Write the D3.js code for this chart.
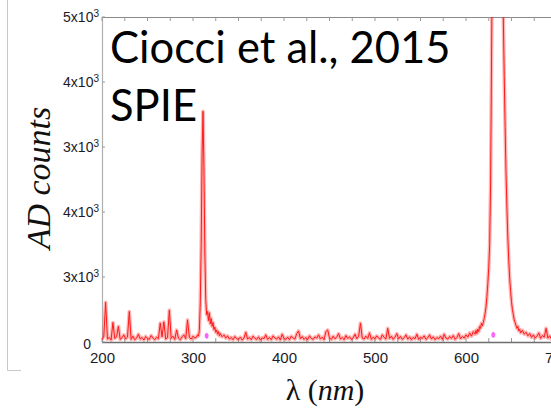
<!DOCTYPE html>
<html>
<head>
<meta charset="utf-8">
<script src="https://cdn.jsdelivr.net/npm/d3@7"></script>
<style>
  html, body { margin: 0; padding: 0; background: #fff; }
  svg { display: block; }
</style>
</head>
<body>
<svg id="chart" width="551" height="410"></svg>
<script>
// Emission spectrum: wavelength (nm) and detector counts (AD counts)
const wavelengthNm = [
  200,202,204,206,208,210,212,214,216,218,220,222,224,226,228,230,232,234,236,238,
  240,242,244,246,248,250,252,254,256,258,260,262,264,266,268,270,272,274,276,278,
  280,282,284,286,288,290,292,294,296,298,300,302,304,
  305,306,307,308,309,310,311,312,313,314,315,316,317,318,319,320,321,322,323,324,
  325,326,327,328,329,330,
  332,334,336,338,340,342,344,346,348,350,352,354,356,358,360,362,364,366,368,370,
  372,374,376,378,380,382,384,386,388,390,392,394,396,398,400,402,404,406,408,410,
  412,414,416,418,420,422,424,426,428,430,432,434,436,438,440,442,444,446,448,450,
  452,454,456,458,460,462,464,466,468,470,472,474,476,478,480,482,484,486,488,490,
  492,494,496,498,500,502,504,506,508,510,512,514,516,518,520,522,524,526,528,530,
  532,534,536,538,540,542,544,546,548,550,552,554,556,558,560,562,564,566,568,570,
  572,574,576,578,580,582,584,586,588,590,592,594,596,598,600,602,604,606,608,610,
  611,612,613,614,615,616,617,618,619,620,621,622,623,624,625,626,627,628,629,630,
  631,632,633,634,635,636,637,638,639,640,641,642,643,644,645,646,647,648,649,650,
  651,652,653,654,655,656,657,658,659,660,
  662,664,666,668,670,672,674,676,678,680,682,684,686,688,690,692,694,696,698,700
];
const adCounts = [
  35,90,610,45,70,30,300,55,80,240,40,65,110,50,75,470,40,90,35,60,
  120,45,70,30,85,55,40,100,60,35,75,50,290,80,310,45,65,490,55,90,
  40,185,60,35,80,110,50,340,70,45,90,60,75,
  110,90,180,600,1500,2900,3550,2700,1400,650,420,470,330,450,280,360,240,300,190,230,
  150,185,120,160,95,130,
  80,110,60,95,45,70,35,85,50,40,75,30,60,150,45,70,35,90,55,40,
  80,30,65,50,110,40,70,35,95,60,45,80,30,120,55,40,75,35,90,60,
  45,130,170,50,85,40,70,35,95,55,40,80,60,110,45,75,35,160,185,60,
  40,90,50,75,130,45,70,35,100,55,80,40,65,120,50,85,290,60,45,90,
  55,140,40,75,50,95,60,40,110,70,45,210,55,90,40,75,130,50,85,40,
  65,110,45,80,35,70,50,120,40,75,55,95,40,65,110,45,80,35,70,50,
  90,40,120,60,45,85,55,100,40,70,130,50,85,60,110,75,140,90,160,120,
  180,130,200,160,240,210,290,250,300,360,440,540,700,900,1150,1500,2400,4200,6200,8000,
  9300,10100,10500,10600,10400,9900,9200,8200,7100,6000,5000,4100,3300,2600,2050,1600,1250,980,780,620,
  500,420,340,300,250,210,240,170,195,140,
  180,120,150,95,130,70,110,60,90,140,55,100,75,210,60,95,45,120,70,85
];
// Small reference markers sitting on the baseline under each line
const markerNm = [315, 630];
const markerCounts = [95, 110];

// Axis ticks
const xTickValues = [200, 300, 400, 500, 600, 700];
const xMinorStep = 25;
const yTickValues = [0, 1000, 2000, 3000, 4000, 5000];
const yTickBase = ["0", "3x10", "4x10", "3x10", "4x10", "5x10"];
const yTickExp = ["", "3", "3", "3", "3", "3"];

const svg = d3.select("#chart");
const plot = { left: 102, right: 557, top: 17, bottom: 342 };
const visibleRight = 551;

const x = d3.scaleLinear().domain([200, 700]).range([plot.left, plot.right]);
const y = d3.scaleLinear().domain([0, 5000]).range([plot.bottom, plot.top]);

// Outer figure border fragment on the left
svg.append("path")
  .attr("d", "M7.5,0 V370.5 H21")
  .attr("fill", "none").attr("stroke", "#c8c8c8").attr("stroke-width", 1);

// Plot frame
svg.append("line").attr("x1", plot.left).attr("x2", visibleRight)
  .attr("y1", plot.top + 0.5).attr("y2", plot.top + 0.5)
  .attr("stroke", "#8a8a8a").attr("stroke-width", 1.2);
svg.append("line").attr("x1", plot.left + 0.5).attr("x2", plot.left + 0.5)
  .attr("y1", plot.top).attr("y2", plot.bottom)
  .attr("stroke", "#b0b0b0").attr("stroke-width", 1.2);

// Minor ticks along top and bottom edges
const minorTicks = d3.range(200, 701, xMinorStep);
svg.append("g").selectAll("line").data(minorTicks).join("line")
  .attr("x1", d => x(d)).attr("x2", d => x(d))
  .attr("y1", plot.top).attr("y2", plot.top + 4)
  .attr("stroke", "#999").attr("stroke-width", 1);
svg.append("g").selectAll("line").data(minorTicks).join("line")
  .attr("x1", d => x(d)).attr("x2", d => x(d))
  .attr("y1", plot.bottom).attr("y2", plot.bottom - 4)
  .attr("stroke", "#999").attr("stroke-width", 1);

// Spectrum, clipped to the plot area
svg.append("clipPath").attr("id", "clip")
  .append("rect").attr("x", plot.left).attr("y", plot.top)
  .attr("width", visibleRight - plot.left).attr("height", plot.bottom - plot.top);

const series = wavelengthNm.map((w, i) => ({ w, c: adCounts[i] }));
const line = d3.line().x(d => x(d.w)).y(d => y(d.c));

const dataG = svg.append("g").attr("clip-path", "url(#clip)");
dataG.append("path").datum(series)
  .attr("d", line).attr("fill", "none")
  .attr("stroke", "rgba(255,40,40,0.35)").attr("stroke-width", 3.6)
  .attr("stroke-linejoin", "round");
dataG.append("path").datum(series)
  .attr("d", line).attr("fill", "none")
  .attr("stroke", "#ff1a1a").attr("stroke-width", 1)
  .attr("stroke-linejoin", "round");

dataG.selectAll("ellipse.marker").data(markerNm).join("ellipse")
  .attr("class", "marker")
  .attr("cx", d => x(d)).attr("cy", (d, i) => y(markerCounts[i]))
  .attr("rx", 1.6).attr("ry", 2.6)
  .attr("fill", "#ff66ff").attr("stroke", "#ee44ee").attr("stroke-width", 0.6);

// Bottom axis line
svg.append("line").attr("x1", plot.left).attr("x2", visibleRight)
  .attr("y1", plot.bottom + 0.5).attr("y2", plot.bottom + 0.5)
  .attr("stroke", "#6e6e6e").attr("stroke-width", 1.4);

// X tick labels
const xAxis = d3.axisBottom(x).tickValues(xTickValues).tickSize(0).tickPadding(10);
const gx = svg.append("g").attr("transform", `translate(0,${plot.bottom})`).call(xAxis);
gx.select(".domain").remove();
gx.selectAll("text")
  .attr("font-family", "'Liberation Sans', Arial, sans-serif")
  .attr("font-size", 15).attr("fill", "#1c1c28");

// Y ticks and labels with exponent superscripts
const yG = svg.append("g");
yG.selectAll("line").data(yTickValues).join("line")
  .attr("x1", plot.left).attr("x2", plot.left + 3)
  .attr("y1", d => y(d)).attr("y2", d => y(d))
  .attr("stroke", "#999").attr("stroke-width", 1);
const yLabels = yG.selectAll("text").data(yTickValues).join("text")
  .attr("x", (d, i) => yTickExp[i] ? 99 : 91)
  .attr("y", (d, i) => y(d) + (i === 0 ? 7 : 5))
  .attr("text-anchor", "end")
  .attr("font-family", "'Liberation Sans', Arial, sans-serif")
  .attr("font-size", 14).attr("fill", "#1c1c28");
yLabels.append("tspan").text((d, i) => yTickBase[i]);
yLabels.append("tspan")
  .attr("dy", -5).attr("font-size", 10)
  .text((d, i) => yTickExp[i]);

// Axis titles
svg.append("text")
  .attr("transform", "translate(50,178) rotate(-90)")
  .attr("text-anchor", "middle")
  .attr("font-family", "'Liberation Serif', 'Times New Roman', serif")
  .attr("font-style", "italic")
  .attr("font-size", 34).attr("fill", "#111")
  .text("AD counts");

const xTitle = svg.append("text")
  .attr("x", 325).attr("y", 400)
  .attr("text-anchor", "middle")
  .attr("font-family", "'Liberation Serif', 'Times New Roman', serif")
  .attr("font-size", 30).attr("fill", "#111");
xTitle.append("tspan").text("λ (");
xTitle.append("tspan").attr("font-style", "italic").text("nm");
xTitle.append("tspan").text(")");

// Citation
const cite = svg.append("text")
  .attr("font-family", "Lato, 'Open Sans', sans-serif")
  .attr("font-size", 43.5).attr("fill", "#000");
cite.append("tspan").attr("x", 110).attr("y", 63).text("Ciocci et al., 2015");
cite.append("tspan").attr("x", 110).attr("y", 121).text("SPIE");
</script>
</body>
</html>
